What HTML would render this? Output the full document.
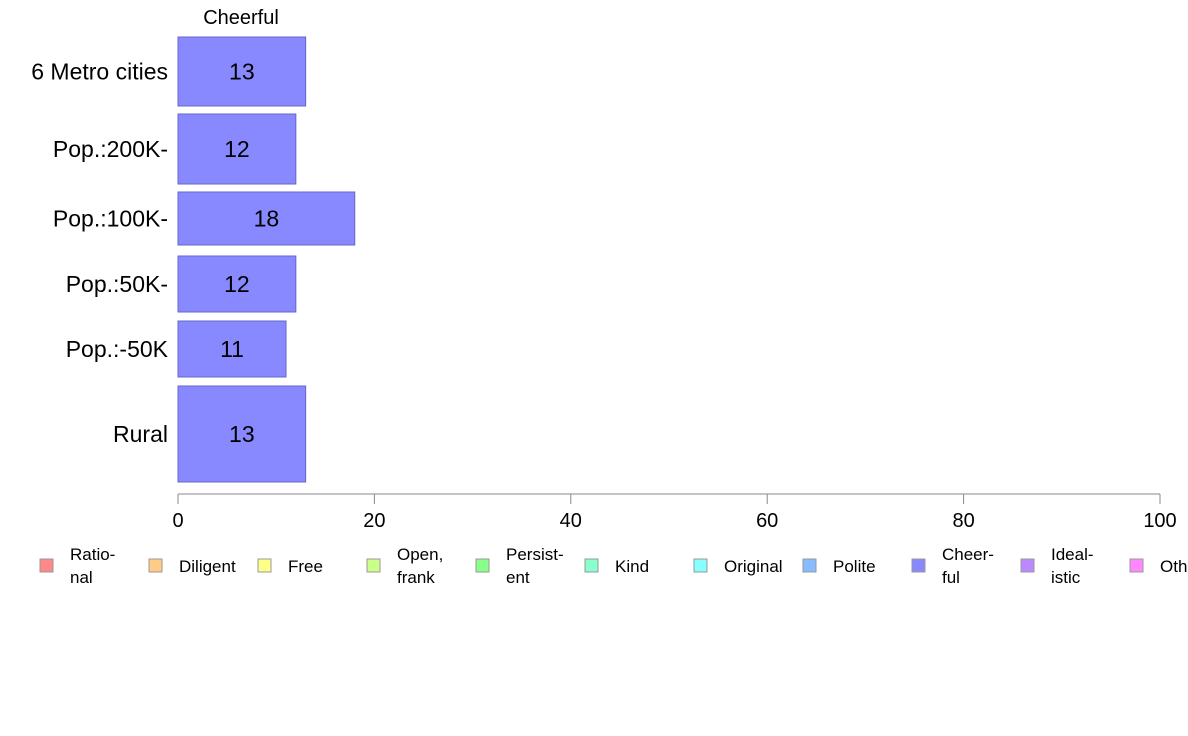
<!DOCTYPE html>
<html><head><meta charset="utf-8"><style>
body{margin:0;background:#fff;}
svg{display:block;font-family:"Liberation Sans",Arial,sans-serif;}
</style></head><body>
<svg id="chart" width="1188" height="736">
<text x="241" y="24" font-size="20" text-anchor="middle">Cheerful</text>
<g id="bars"></g>
<g id="axis"></g>
<g id="legend"></g>
</svg>
<script>
const categories=["6 Metro cities","Pop.:200K-","Pop.:100K-","Pop.:50K-","Pop.:-50K","Rural"];
const values=[13,12,18,12,11,13];
const rowTop=[37,114,192,256,321,386];
const rowBottom=[106,184,245,312,377,482];
const ticks=[0,20,40,60,80,100];
const legendLabels=[["Ratio-","nal"],["Diligent"],["Free"],["Open,","frank"],["Persist-","ent"],["Kind"],["Original"],["Polite"],["Cheer-","ful"],["Ideal-","istic"],["Other"]];
const legendColors=["#ff8888","#ffcc88","#ffff88","#ccff88","#88ff88","#88ffcc","#88ffff","#88bbff","#8888ff","#bb88ff","#ff88ff"];
const NS="http://www.w3.org/2000/svg";
const x=v=>178+v*9.82;
function mk(tag,attrs,parent){const e=document.createElementNS(NS,tag);for(const k in attrs)e.setAttribute(k,attrs[k]);parent.appendChild(e);return e;}
const bars=document.getElementById('bars');
categories.forEach((c,i)=>{
  const r=mk('rect',{x:x(0),y:rowTop[i],width:x(values[i])-x(0),height:rowBottom[i]-rowTop[i],fill:'#8888ff',stroke:'#6666cc','stroke-width':1},bars);
  
  
  const cy=(rowTop[i]+rowBottom[i])/2;
  const t=mk('text',{x:(x(0)+x(values[i]))/2,y:cy+8,'font-size':23,'text-anchor':'middle'},bars);t.textContent=values[i];
  
  
  const l=mk('text',{x:168,y:cy+8,'font-size':23,'text-anchor':'end'},bars);l.textContent=c;
  
  
});
const ax=document.getElementById('axis');
const al=mk('line',{x1:x(0),x2:x(100),y1:494,y2:494,stroke:'#888','stroke-width':1},ax);


ticks.forEach(v=>{
  const tl=mk('line',{x1:x(v),x2:x(v),y1:494,y2:504,stroke:'#888'},ax);
  
  
  const t=mk('text',{x:x(v),y:527,'font-size':20,'text-anchor':'middle'},ax);t.textContent=v;
  
  
});
const lg=document.getElementById('legend');
legendLabels.forEach((lab,i)=>{
  const lx=40+i*109;
  const g=mk('g',{},lg);
  
  
  mk('rect',{x:lx,y:559,width:13,height:13,fill:legendColors[i],stroke:'#999','stroke-width':1},g);
  if(lab.length===1){const t=mk('text',{x:lx+30,y:572,'font-size':17},g);t.textContent=lab[0];}
  else{const t=mk('text',{x:lx+30,y:560,'font-size':17},g);t.textContent=lab[0];const t2=mk('text',{x:lx+30,y:583,'font-size':17},g);t2.textContent=lab[1];}
});
</script>
</body></html>
